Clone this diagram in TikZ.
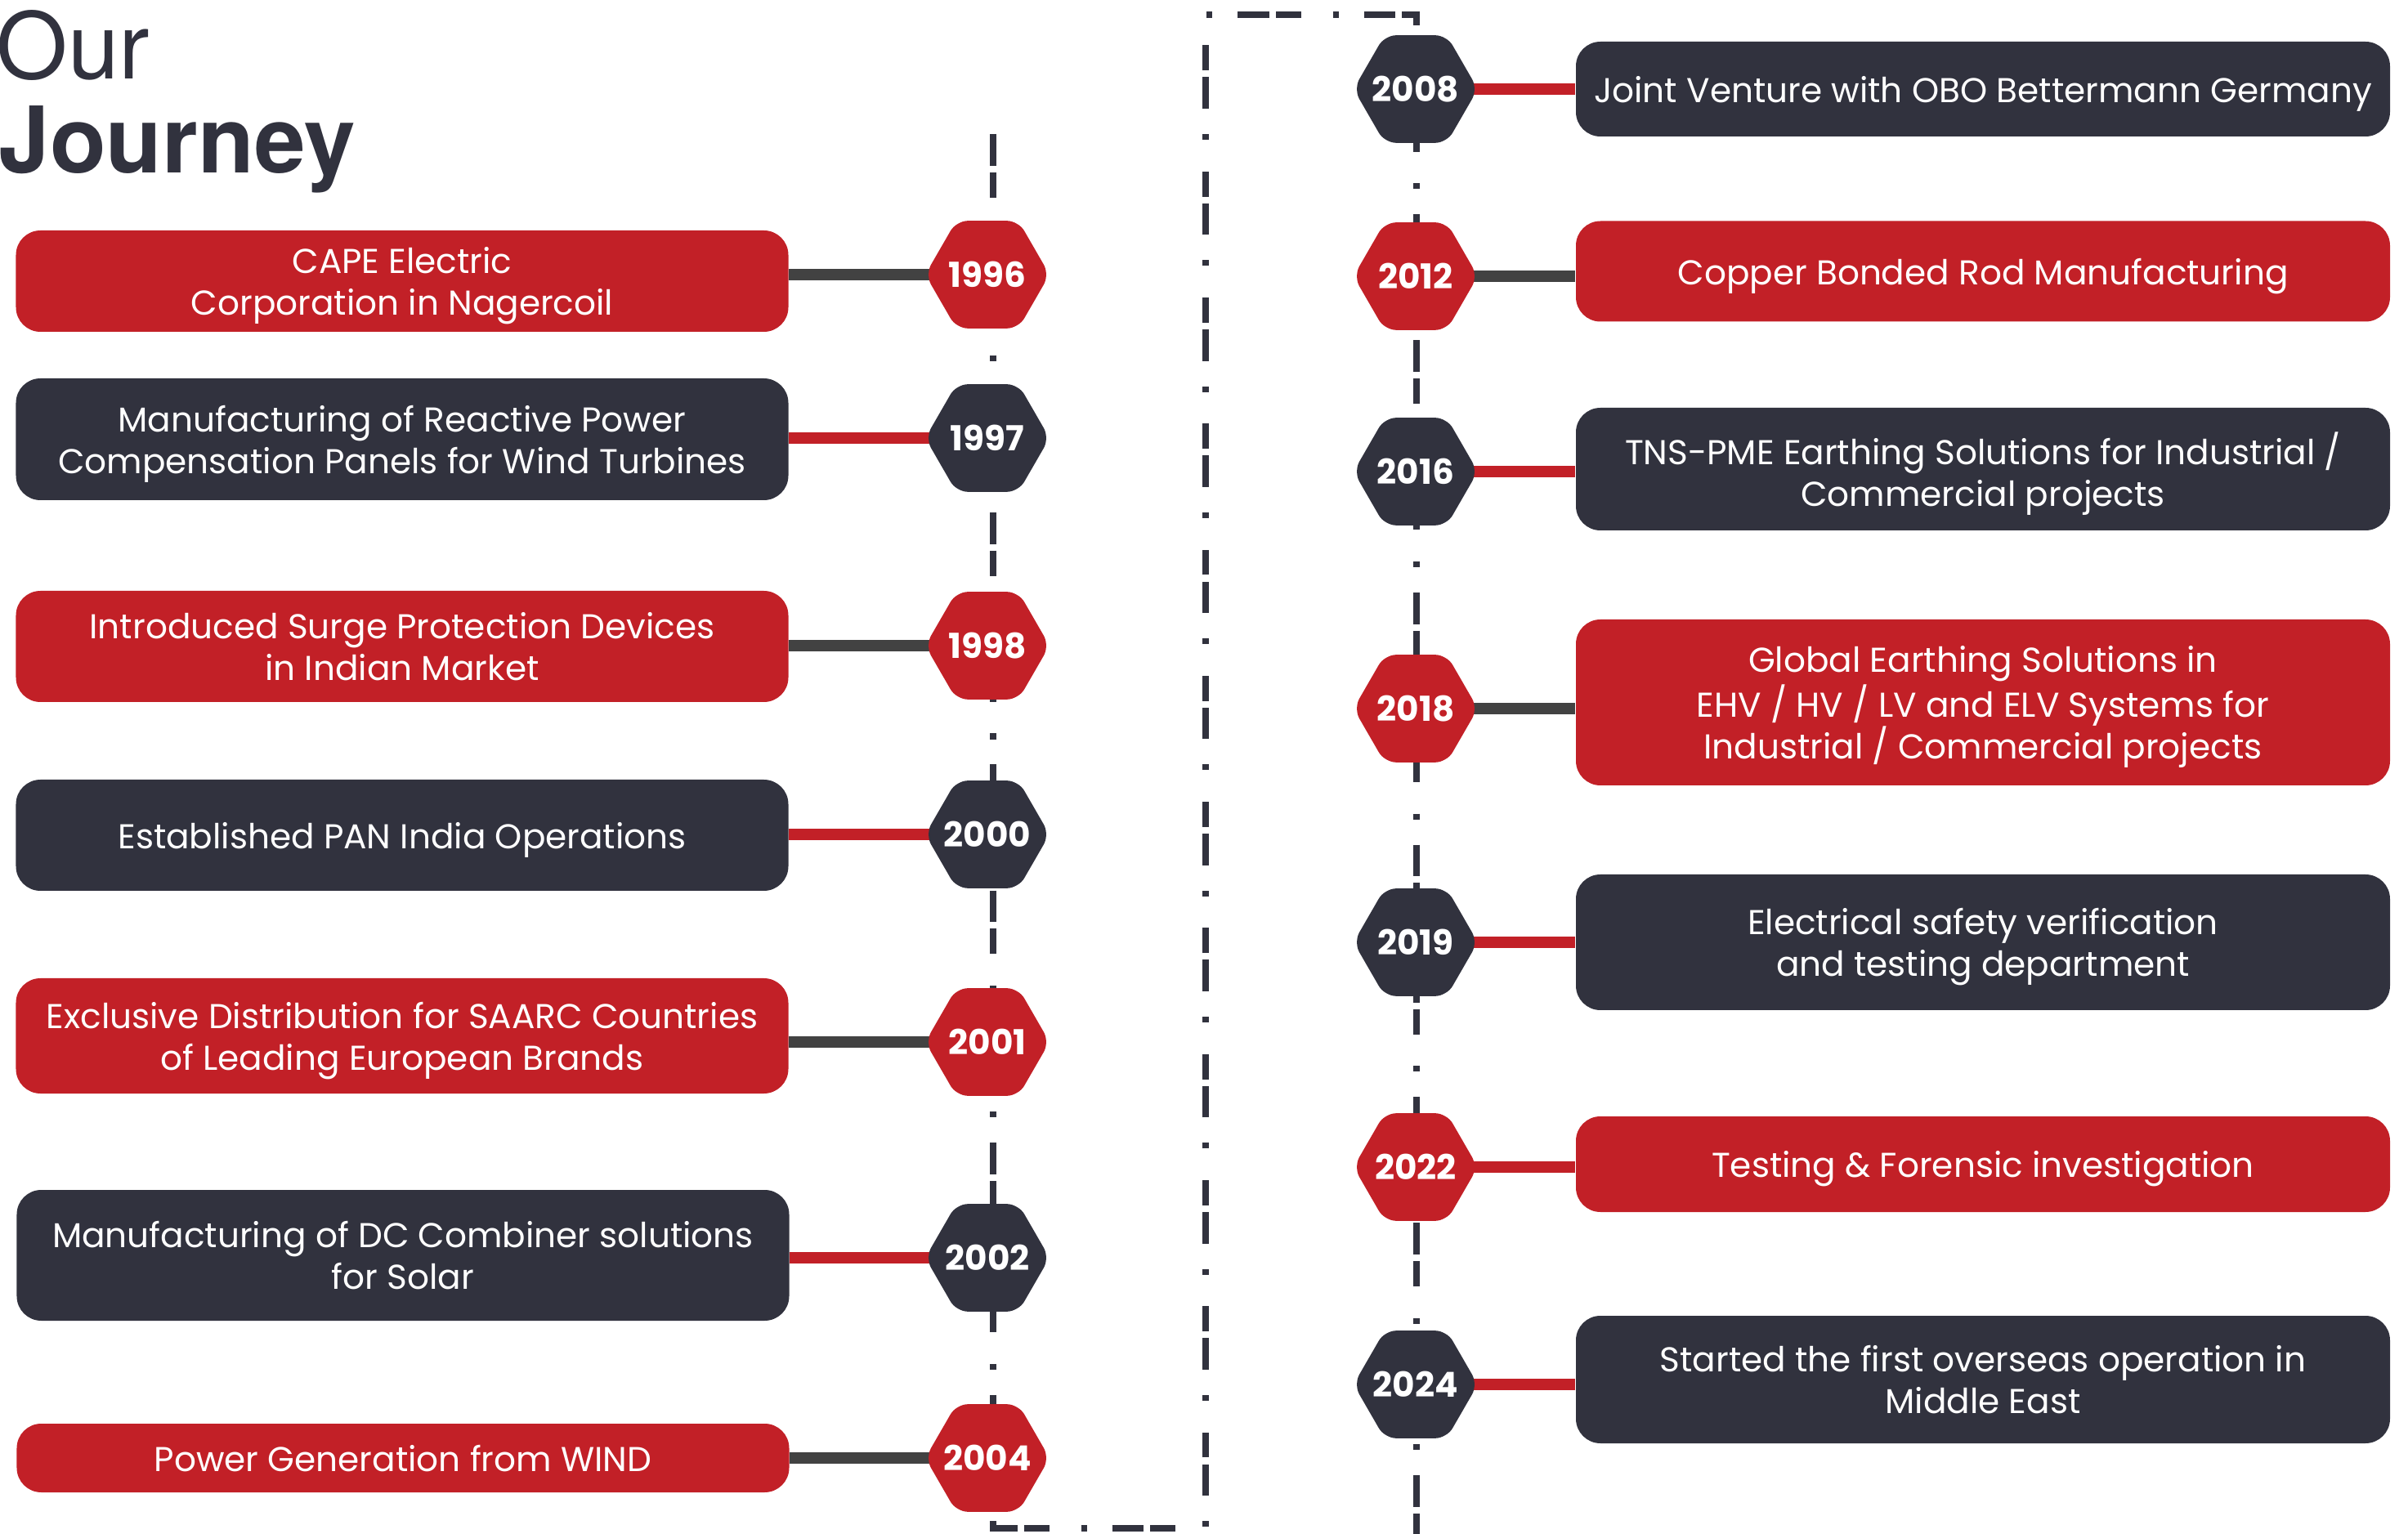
\documentclass[tikz,border=0pt]{standalone}
\usepackage{fontspec}
\setmainfont{Poppins}
\newfontfamily\headfont{TeX Gyre Heros}
\usetikzlibrary{shapes.geometric,backgrounds}
\definecolor{jred}{HTML}{C22027}
\definecolor{jdark}{HTML}{31323E}
\definecolor{jgrey}{HTML}{424242}
\newcommand{\yr}[1]{\makebox[0pt]{#1}}
\tikzset{
	box/.style={rounded corners=0.3cm, minimum width=9.45cm, inner sep=0pt, text depth=0pt, text=white, align=center, font=\fontsize{12}{14.5}\selectfont},
	redbox/.style={box, fill=jred},
	darkbox/.style={box, fill=jdark},
	wide/.style={minimum width=9.96cm},
	year/.style={regular polygon, regular polygon sides=6, minimum size=1.52cm, inner sep=0pt, rounded corners=4pt, text=white, font=\bfseries\fontsize{12}{12}\selectfont},
	redyear/.style={year, fill=jred},
	darkyear/.style={year, fill=jdark},
	redlink/.style={draw=jred, line width=4pt},
	greylink/.style={draw=jgrey, line width=4pt},
	timeline/.style={draw=jdark, line width=2.1pt, dash pattern=on 11pt off 2.3pt on 8.8pt off 11pt on 2pt off 8.8pt},
	title/.style={anchor=base west, inner sep=0pt, text=jdark}
}
\begin{document}
\begin{tikzpicture}
		\useasboundingbox (0,0) rectangle (29.46,-18.77);
		\node[title, font=\headfont\fontsize{32}{32}\selectfont] at (-0.05,-0.97) (our){Our};
		\node[title, font=\headfont\bfseries\fontsize{32}{32}\selectfont] at (-0.02,-2.12) (journey){Journey};
		% left column
		\node[redbox, minimum height=1.24cm] at (4.92,-3.44) (b1996){CAPE Electric\\Corporation in Nagercoil};
		\node[darkbox, minimum height=1.49cm] at (4.92,-5.375) (b1997){Manufacturing of Reactive Power\\Compensation Panels for Wind Turbines};
		\node[redbox, minimum height=1.36cm] at (4.92,-7.91) (b1998){Introduced Surge Protection Devices\\in Indian Market};
		\node[darkbox, minimum height=1.36cm] at (4.92,-10.22) (b2000){Established PAN India Operations};
		\node[redbox, minimum height=1.41cm] at (4.92,-12.675) (b2001){Exclusive Distribution for SAARC Countries\\of Leading European Brands};
		\node[darkbox, minimum height=1.60cm] at (4.93,-15.36) (b2002){Manufacturing of DC Combiner solutions\\for Solar};
		\node[redbox, minimum height=0.84cm] at (4.93,-17.84) (b2004){Power Generation from WIND};
		\node[redyear] at (12.08,-3.36) (y1996){\yr{1996}};
		\node[darkyear] at (12.08,-5.36) (y1997){\yr{1997}};
		\node[redyear] at (12.08,-7.90) (y1998){\yr{1998}};
		\node[darkyear] at (12.08,-10.21) (y2000){\yr{2000}};
		\node[redyear] at (12.08,-12.75) (y2001){\yr{2001}};
		\node[darkyear] at (12.08,-15.39) (y2002){\yr{2002}};
		\node[redyear] at (12.08,-17.84) (y2004){\yr{2004}};
		% right column
		\node[darkbox, wide, minimum height=1.16cm] at (24.26,-1.09) (b2008){Joint Venture with OBO Bettermann Germany};
		\node[redbox, wide, minimum height=1.23cm] at (24.26,-3.32) (b2012){Copper Bonded Rod Manufacturing};
		\node[darkbox, wide, minimum height=1.50cm] at (24.26,-5.74) (b2016){TNS-PME Earthing Solutions for Industrial /\\Commercial projects};
		\node[redbox, wide, minimum height=2.03cm] at (24.26,-8.595) (b2018){Global Earthing Solutions in\\EHV / HV / LV and ELV Systems for\\Industrial / Commercial projects};
		\node[darkbox, wide, minimum height=1.66cm] at (24.26,-11.53) (b2019){Electrical safety verification\\and testing department};
		\node[redbox, wide, minimum height=1.17cm] at (24.26,-14.245) (b2022){Testing \& Forensic investigation};
		\node[darkbox, wide, minimum height=1.56cm] at (24.26,-16.88) (b2024){Started the first overseas operation in\\Middle East};
		\node[darkyear] at (17.32,-1.09) (y2008){\yr{2008}};
		\node[redyear] at (17.32,-3.38) (y2012){\yr{2012}};
		\node[darkyear] at (17.32,-5.77) (y2016){\yr{2016}};
		\node[redyear] at (17.32,-8.67) (y2018){\yr{2018}};
		\node[darkyear] at (17.32,-11.53) (y2019){\yr{2019}};
		\node[redyear] at (17.32,-14.28) (y2022){\yr{2022}};
		\node[darkyear] at (17.32,-16.94) (y2024){\yr{2024}};
		\begin{scope}[on background layer]
			\draw[timeline] (12.15,-1.64) -- (12.15,-18.70) -- (14.75,-18.70) -- (14.75,-0.18) -- (17.33,-0.18) -- (17.33,-18.9);
			\draw[greylink] (y1996.center) -- (b1996.east |- y1996.center);
			\draw[redlink] (y1997.center) -- (b1997.east |- y1997.center);
			\draw[greylink] (y1998.center) -- (b1998.east |- y1998.center);
			\draw[redlink] (y2000.center) -- (b2000.east |- y2000.center);
			\draw[greylink] (y2001.center) -- (b2001.east |- y2001.center);
			\draw[redlink] (y2002.center) -- (b2002.east |- y2002.center);
			\draw[greylink] (y2004.center) -- (b2004.east |- y2004.center);
			\draw[redlink] (y2008.center) -- (b2008.west |- y2008.center);
			\draw[greylink] (y2012.center) -- (b2012.west |- y2012.center);
			\draw[redlink] (y2016.center) -- (b2016.west |- y2016.center);
			\draw[greylink] (y2018.center) -- (b2018.west |- y2018.center);
			\draw[redlink] (y2019.center) -- (b2019.west |- y2019.center);
			\draw[redlink] (y2022.center) -- (b2022.west |- y2022.center);
			\draw[redlink] (y2024.center) -- (b2024.west |- y2024.center);
		\end{scope}
\end{tikzpicture}
\end{document}
